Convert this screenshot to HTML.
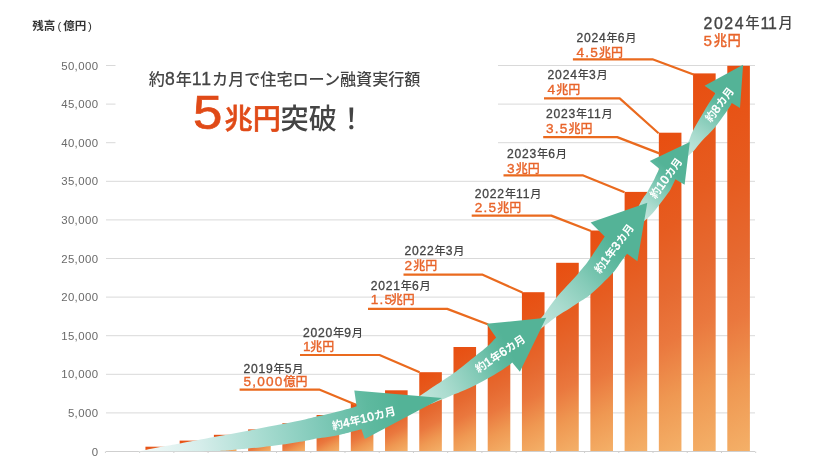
<!DOCTYPE html>
<html lang="ja"><head><meta charset="utf-8"><title>住宅ローン融資実行額 5兆円突破</title>
<style>html,body{margin:0;padding:0;background:#fff}body{width:828px;height:456px;overflow:hidden}svg{display:block}text{font-family:"Liberation Sans","Noto Sans CJK JP",sans-serif}.ax{font-size:11.4px;fill:#6a6a6a;text-anchor:end;letter-spacing:.4px}.dt{font-size:11.2px;fill:#444;font-weight:500}.dn{font-size:12.1px;letter-spacing:.8px;stroke:#444;stroke-width:.3px}.vl{font-size:12px;fill:#e8642a;font-weight:500;stroke:#e8642a;stroke-width:.25px}.vn{font-size:13.6px;letter-spacing:1.2px;stroke:#e8642a;stroke-width:.35px}.tn{font-size:17.6px;letter-spacing:1px;font-weight:400;stroke:#444;stroke-width:.3px}.bn{font-size:15.9px;stroke:#444;stroke-width:.35px}.bv{font-size:15.2px;letter-spacing:1.6px;stroke:#e8642a;stroke-width:.35px}.ar{font-size:10.9px;fill:#fff;font-weight:700;text-anchor:middle}.an{font-size:12px;letter-spacing:.4px;font-weight:400;stroke:#fff;stroke-width:.55px}.ln{fill:none;stroke:#ea6a1e;stroke-width:2.2;stroke-linejoin:round}</style></head><body>
<svg width="828" height="456" viewBox="0 0 828 456">
<defs>
<linearGradient id="b1" gradientUnits="userSpaceOnUse" x1="145.4" y1="446.7" x2="152.2" y2="459.4"><stop offset="0" stop-color="#e84e10"/><stop offset="0.3" stop-color="#e65c20"/><stop offset="0.5" stop-color="#e66a31"/><stop offset="0.65" stop-color="#ea783e"/><stop offset="0.82" stop-color="#ef9852"/><stop offset="1" stop-color="#f4b068"/></linearGradient>
<linearGradient id="b2" gradientUnits="userSpaceOnUse" x1="179.7" y1="440.6" x2="189.0" y2="458.1"><stop offset="0" stop-color="#e84e10"/><stop offset="0.3" stop-color="#e65c20"/><stop offset="0.5" stop-color="#e66a31"/><stop offset="0.65" stop-color="#ea783e"/><stop offset="0.82" stop-color="#ef9852"/><stop offset="1" stop-color="#f4b068"/></linearGradient>
<linearGradient id="b3" gradientUnits="userSpaceOnUse" x1="213.9" y1="434.8" x2="225.6" y2="456.8"><stop offset="0" stop-color="#e84e10"/><stop offset="0.3" stop-color="#e65c20"/><stop offset="0.5" stop-color="#e66a31"/><stop offset="0.65" stop-color="#ea783e"/><stop offset="0.82" stop-color="#ef9852"/><stop offset="1" stop-color="#f4b068"/></linearGradient>
<linearGradient id="b4" gradientUnits="userSpaceOnUse" x1="248.1" y1="429.4" x2="262.1" y2="455.6"><stop offset="0" stop-color="#e84e10"/><stop offset="0.3" stop-color="#e65c20"/><stop offset="0.5" stop-color="#e66a31"/><stop offset="0.65" stop-color="#ea783e"/><stop offset="0.82" stop-color="#ef9852"/><stop offset="1" stop-color="#f4b068"/></linearGradient>
<linearGradient id="b5" gradientUnits="userSpaceOnUse" x1="282.4" y1="423.2" x2="298.9" y2="454.2"><stop offset="0" stop-color="#e84e10"/><stop offset="0.3" stop-color="#e65c20"/><stop offset="0.5" stop-color="#e66a31"/><stop offset="0.65" stop-color="#ea783e"/><stop offset="0.82" stop-color="#ef9852"/><stop offset="1" stop-color="#f4b068"/></linearGradient>
<linearGradient id="b6" gradientUnits="userSpaceOnUse" x1="316.6" y1="415.0" x2="336.5" y2="452.4"><stop offset="0" stop-color="#e84e10"/><stop offset="0.3" stop-color="#e65c20"/><stop offset="0.5" stop-color="#e66a31"/><stop offset="0.65" stop-color="#ea783e"/><stop offset="0.82" stop-color="#ef9852"/><stop offset="1" stop-color="#f4b068"/></linearGradient>
<linearGradient id="b7" gradientUnits="userSpaceOnUse" x1="350.8" y1="403.6" x2="375.4" y2="449.9"><stop offset="0" stop-color="#e84e10"/><stop offset="0.3" stop-color="#e65c20"/><stop offset="0.5" stop-color="#e66a31"/><stop offset="0.65" stop-color="#ea783e"/><stop offset="0.82" stop-color="#ef9852"/><stop offset="1" stop-color="#f4b068"/></linearGradient>
<linearGradient id="b8" gradientUnits="userSpaceOnUse" x1="385.0" y1="390.3" x2="415.2" y2="447.0"><stop offset="0" stop-color="#e84e10"/><stop offset="0.3" stop-color="#e65c20"/><stop offset="0.5" stop-color="#e66a31"/><stop offset="0.65" stop-color="#ea783e"/><stop offset="0.82" stop-color="#ef9852"/><stop offset="1" stop-color="#f4b068"/></linearGradient>
<linearGradient id="b9" gradientUnits="userSpaceOnUse" x1="419.3" y1="372.2" x2="456.9" y2="443.0"><stop offset="0" stop-color="#e84e10"/><stop offset="0.3" stop-color="#e65c20"/><stop offset="0.5" stop-color="#e66a31"/><stop offset="0.65" stop-color="#ea783e"/><stop offset="0.82" stop-color="#ef9852"/><stop offset="1" stop-color="#f4b068"/></linearGradient>
<linearGradient id="b10" gradientUnits="userSpaceOnUse" x1="453.5" y1="347.0" x2="501.6" y2="437.4"><stop offset="0" stop-color="#e84e10"/><stop offset="0.3" stop-color="#e65c20"/><stop offset="0.5" stop-color="#e66a31"/><stop offset="0.65" stop-color="#ea783e"/><stop offset="0.82" stop-color="#ef9852"/><stop offset="1" stop-color="#f4b068"/></linearGradient>
<linearGradient id="b11" gradientUnits="userSpaceOnUse" x1="487.7" y1="324.5" x2="545.1" y2="432.5"><stop offset="0" stop-color="#e84e10"/><stop offset="0.3" stop-color="#e65c20"/><stop offset="0.5" stop-color="#e66a31"/><stop offset="0.65" stop-color="#ea783e"/><stop offset="0.82" stop-color="#ef9852"/><stop offset="1" stop-color="#f4b068"/></linearGradient>
<linearGradient id="b12" gradientUnits="userSpaceOnUse" x1="521.9" y1="292.2" x2="592.7" y2="425.4"><stop offset="0" stop-color="#e84e10"/><stop offset="0.3" stop-color="#e65c20"/><stop offset="0.5" stop-color="#e66a31"/><stop offset="0.65" stop-color="#ea783e"/><stop offset="0.82" stop-color="#ef9852"/><stop offset="1" stop-color="#f4b068"/></linearGradient>
<linearGradient id="b13" gradientUnits="userSpaceOnUse" x1="556.2" y1="262.8" x2="639.2" y2="418.9"><stop offset="0" stop-color="#e84e10"/><stop offset="0.3" stop-color="#e65c20"/><stop offset="0.5" stop-color="#e66a31"/><stop offset="0.65" stop-color="#ea783e"/><stop offset="0.82" stop-color="#ef9852"/><stop offset="1" stop-color="#f4b068"/></linearGradient>
<linearGradient id="b14" gradientUnits="userSpaceOnUse" x1="590.4" y1="230.5" x2="686.8" y2="411.8"><stop offset="0" stop-color="#e84e10"/><stop offset="0.3" stop-color="#e65c20"/><stop offset="0.5" stop-color="#e66a31"/><stop offset="0.65" stop-color="#ea783e"/><stop offset="0.82" stop-color="#ef9852"/><stop offset="1" stop-color="#f4b068"/></linearGradient>
<linearGradient id="b15" gradientUnits="userSpaceOnUse" x1="624.6" y1="191.9" x2="737.0" y2="403.3"><stop offset="0" stop-color="#e84e10"/><stop offset="0.3" stop-color="#e65c20"/><stop offset="0.5" stop-color="#e66a31"/><stop offset="0.65" stop-color="#ea783e"/><stop offset="0.82" stop-color="#ef9852"/><stop offset="1" stop-color="#f4b068"/></linearGradient>
<linearGradient id="b16" gradientUnits="userSpaceOnUse" x1="658.8" y1="132.7" x2="795.8" y2="390.2"><stop offset="0" stop-color="#e84e10"/><stop offset="0.3" stop-color="#e65c20"/><stop offset="0.5" stop-color="#e66a31"/><stop offset="0.65" stop-color="#ea783e"/><stop offset="0.82" stop-color="#ef9852"/><stop offset="1" stop-color="#f4b068"/></linearGradient>
<linearGradient id="b17" gradientUnits="userSpaceOnUse" x1="693.1" y1="73.4" x2="854.6" y2="377.1"><stop offset="0" stop-color="#e84e10"/><stop offset="0.3" stop-color="#e65c20"/><stop offset="0.5" stop-color="#e66a31"/><stop offset="0.65" stop-color="#ea783e"/><stop offset="0.82" stop-color="#ef9852"/><stop offset="1" stop-color="#f4b068"/></linearGradient>
<linearGradient id="b18" gradientUnits="userSpaceOnUse" x1="727.3" y1="65.8" x2="891.9" y2="375.5"><stop offset="0" stop-color="#e84e10"/><stop offset="0.3" stop-color="#e65c20"/><stop offset="0.5" stop-color="#e66a31"/><stop offset="0.65" stop-color="#ea783e"/><stop offset="0.82" stop-color="#ef9852"/><stop offset="1" stop-color="#f4b068"/></linearGradient>
<linearGradient id="a5" gradientUnits="userSpaceOnUse" x1="684.0" y1="155.0" x2="725.0" y2="97.0"><stop offset="0" stop-color="#c6e7df"/><stop offset="0.3" stop-color="#abdccf"/><stop offset="0.6" stop-color="#85cbb8"/><stop offset="0.85" stop-color="#60baa1"/><stop offset="1" stop-color="#54b397"/></linearGradient>
<linearGradient id="a4" gradientUnits="userSpaceOnUse" x1="636.0" y1="215.0" x2="672.0" y2="172.0"><stop offset="0" stop-color="#c6e7df"/><stop offset="0.3" stop-color="#abdccf"/><stop offset="0.6" stop-color="#85cbb8"/><stop offset="0.85" stop-color="#60baa1"/><stop offset="1" stop-color="#54b397"/></linearGradient>
<linearGradient id="a3" gradientUnits="userSpaceOnUse" x1="530.0" y1="328.0" x2="615.0" y2="245.0"><stop offset="0" stop-color="#c6e7df"/><stop offset="0.3" stop-color="#abdccf"/><stop offset="0.6" stop-color="#85cbb8"/><stop offset="0.85" stop-color="#60baa1"/><stop offset="1" stop-color="#54b397"/></linearGradient>
<linearGradient id="a2" gradientUnits="userSpaceOnUse" x1="415.0" y1="400.0" x2="510.0" y2="350.0"><stop offset="0" stop-color="#c6e7df"/><stop offset="0.3" stop-color="#abdccf"/><stop offset="0.6" stop-color="#85cbb8"/><stop offset="0.85" stop-color="#60baa1"/><stop offset="1" stop-color="#54b397"/></linearGradient>
<linearGradient id="a1" gradientUnits="userSpaceOnUse" x1="140.0" y1="451.0" x2="400.0" y2="407.0"><stop offset="0" stop-color="#f2faf9"/><stop offset="0.23" stop-color="#d5edea"/><stop offset="0.46" stop-color="#a8dcd1"/><stop offset="0.69" stop-color="#7fc9b8"/><stop offset="0.88" stop-color="#5eb99f"/><stop offset="1" stop-color="#53b397"/></linearGradient>
</defs>
<rect width="828" height="456" fill="#fff"/>
<path d="M106.0 451.50H755.0" stroke="#cfcfcf" stroke-width="1" fill="none"/>
<path d="M106.0 412.90H755.0" stroke="#d9d9d9" stroke-width="1" fill="none"/>
<path d="M106.0 374.30H755.0" stroke="#d9d9d9" stroke-width="1" fill="none"/>
<path d="M106.0 335.70H755.0" stroke="#d9d9d9" stroke-width="1" fill="none"/>
<path d="M106.0 297.10H755.0" stroke="#d9d9d9" stroke-width="1" fill="none"/>
<path d="M106.0 258.50H755.0" stroke="#d9d9d9" stroke-width="1" fill="none"/>
<path d="M106.0 219.90H755.0" stroke="#d9d9d9" stroke-width="1" fill="none"/>
<path d="M106.0 181.30H755.0" stroke="#d9d9d9" stroke-width="1" fill="none"/>
<path d="M106.0 142.70H115.5M498 142.70H755.0" stroke="#d9d9d9" stroke-width="1" fill="none"/>
<path d="M106.0 104.10H115.5M498 104.10H755.0" stroke="#d9d9d9" stroke-width="1" fill="none"/>
<path d="M106.0 65.50H115.5M498 65.50H755.0" stroke="#d9d9d9" stroke-width="1" fill="none"/>
<path d="M105.41 451.5V453.0M139.64 451.5V453.0M173.86 451.5V453.0M208.09 451.5V453.0M242.31 451.5V453.0M276.54 451.5V453.0M310.77 451.5V453.0M344.99 451.5V453.0M379.22 451.5V453.0M413.44 451.5V453.0M447.67 451.5V453.0M481.90 451.5V453.0M516.12 451.5V453.0M550.35 451.5V453.0M584.57 451.5V453.0M618.80 451.5V453.0M653.03 451.5V453.0M687.25 451.5V453.0M721.48 451.5V453.0M755.70 451.5V453.0" stroke="#cfcfcf" stroke-width="1" fill="none"/>
<text class="ax" x="98.4" y="455.6">0</text>
<text class="ax" x="98.4" y="417.0">5,000</text>
<text class="ax" x="98.4" y="378.4">10,000</text>
<text class="ax" x="98.4" y="339.8">15,000</text>
<text class="ax" x="98.4" y="301.2">20,000</text>
<text class="ax" x="98.4" y="262.6">25,000</text>
<text class="ax" x="98.4" y="224.0">30,000</text>
<text class="ax" x="98.4" y="185.4">35,000</text>
<text class="ax" x="98.4" y="146.8">40,000</text>
<text class="ax" x="98.4" y="108.2">45,000</text>
<text class="ax" x="98.4" y="69.6">50,000</text>
<text x="32.3" y="29.6" style="font-size:11.5px;font-weight:700;fill:#333">残高<tspan dx="2.2" style="font-weight:400">(</tspan><tspan dx="1.8">億円</tspan><tspan dx="1.8" style="font-weight:400">)</tspan></text>
<rect x="145.45" y="446.70" width="22.6" height="4.30" fill="url(#b1)"/>
<rect x="179.67" y="440.60" width="22.6" height="10.40" fill="url(#b2)"/>
<rect x="213.90" y="434.80" width="22.6" height="16.20" fill="url(#b3)"/>
<rect x="248.12" y="429.40" width="22.6" height="21.60" fill="url(#b4)"/>
<rect x="282.35" y="423.20" width="22.6" height="27.80" fill="url(#b5)"/>
<rect x="316.58" y="415.00" width="22.6" height="36.00" fill="url(#b6)"/>
<rect x="350.80" y="403.60" width="22.6" height="47.40" fill="url(#b7)"/>
<rect x="385.03" y="390.30" width="22.6" height="60.70" fill="url(#b8)"/>
<rect x="419.25" y="372.20" width="22.6" height="78.80" fill="url(#b9)"/>
<rect x="453.48" y="347.00" width="22.6" height="104.00" fill="url(#b10)"/>
<rect x="487.71" y="324.50" width="22.6" height="126.50" fill="url(#b11)"/>
<rect x="521.93" y="292.20" width="22.6" height="158.80" fill="url(#b12)"/>
<rect x="556.16" y="262.80" width="22.6" height="188.20" fill="url(#b13)"/>
<rect x="590.38" y="230.50" width="22.6" height="220.50" fill="url(#b14)"/>
<rect x="624.61" y="191.90" width="22.6" height="259.10" fill="url(#b15)"/>
<rect x="658.84" y="132.70" width="22.6" height="318.30" fill="url(#b16)"/>
<rect x="693.06" y="73.40" width="22.6" height="377.60" fill="url(#b17)"/>
<rect x="727.29" y="65.80" width="22.6" height="385.20" fill="url(#b18)"/>
<path class="ln" d="M239.6 389.6H319.2L355.4 404.5"/>
<text class="dt" x="243.5" y="372.6"><tspan class="dn">2019</tspan>年<tspan class="dn">5</tspan>月</text>
<text class="vl" x="243.5" y="386.4"><tspan class="vn">5,000</tspan>億円</text>
<path class="ln" d="M300.0 355.0H379.5L419.6 372.2"/>
<text class="dt" x="303.0" y="337.1"><tspan class="dn">2020</tspan>年<tspan class="dn">9</tspan>月</text>
<text class="vl" x="303.0" y="351.4"><tspan class="vn">1</tspan><tspan dx="-1.5">兆円</tspan></text>
<path class="ln" d="M368.0 308.9H447.2L488.3 324.5"/>
<text class="dt" x="370.7" y="289.7"><tspan class="dn">2021</tspan>年<tspan class="dn">6</tspan>月</text>
<text class="vl" x="370.7" y="304.4"><tspan class="vn">1.5</tspan><tspan dx="-2.4">兆円</tspan></text>
<path class="ln" d="M403.5 274.6H482.1L522.4 292.5"/>
<text class="dt" x="404.5" y="255.4"><tspan class="dn">2022</tspan>年<tspan class="dn">3</tspan>月</text>
<text class="vl" x="404.5" y="270.2"><tspan class="vn">2</tspan>兆円</text>
<path class="ln" d="M471.7 215.6H551.3L591.0 231.0"/>
<text class="dt" x="474.8" y="197.6"><tspan class="dn">2022</tspan>年<tspan class="dn">11</tspan>月</text>
<text class="vl" x="474.8" y="211.9"><tspan class="vn">2.5</tspan>兆円</text>
<path class="ln" d="M503.5 175.3H582.6L624.5 192.3"/>
<text class="dt" x="506.9" y="158.3"><tspan class="dn">2023</tspan>年<tspan class="dn">6</tspan>月</text>
<text class="vl" x="506.9" y="173.1"><tspan class="vn">3</tspan>兆円</text>
<path class="ln" d="M543.2 137.1H617.2L660.0 153.6"/>
<text class="dt" x="546.0" y="118.4"><tspan class="dn">2023</tspan>年<tspan class="dn">11</tspan>月</text>
<text class="vl" x="546.0" y="133.0"><tspan class="vn">3.5</tspan>兆円</text>
<path class="ln" d="M544.0 98.4H619.7L658.6 133.2"/>
<text class="dt" x="547.6" y="79.2"><tspan class="dn">2024</tspan>年<tspan class="dn">3</tspan>月</text>
<text class="vl" x="547.6" y="94.0"><tspan class="vn">4</tspan>兆円</text>
<path class="ln" d="M572.9 59.3H652.5L693.5 74.5"/>
<text class="dt" x="576.5" y="42.3"><tspan class="dn">2024</tspan>年<tspan class="dn">6</tspan>月</text>
<text class="vl" x="576.5" y="56.6"><tspan class="vn">4.5</tspan>兆円</text>
<text x="703.6" y="28.6" style="font-size:14.4px;fill:#444;font-weight:500"><tspan class="bn" style="letter-spacing:1.55px">2024</tspan><tspan dy="-1.1">年</tspan><tspan class="bn" dx="0.9" dy="1.1" style="letter-spacing:-.2px">11</tspan><tspan dx="1.8" dy="-1.1">月</tspan></text>
<text x="703.6" y="45.6" style="font-size:13.3px;fill:#e8642a;font-weight:500;stroke:#e8642a;stroke-width:.3px"><tspan class="bv">5</tspan><tspan dy="-1" style="letter-spacing:.6px">兆円</tspan></text>
<text x="148.8" y="85.2" style="font-size:16.1px;fill:#444;font-weight:500">約<tspan class="tn">8</tspan>年<tspan class="tn">11</tspan>カ月で住宅ローン融資実行額</text>
<text transform="translate(192.9 128.8) scale(1.1 1)" style="font-size:48px;fill:#e04a17;stroke:#e04a17;stroke-width:.7px">5</text>
<text x="224.6" y="129.3" style="font-size:28.2px;fill:#e04a17;font-weight:500;stroke:#e04a17;stroke-width:.55px">兆円</text>
<text x="280.5" y="129.3" style="font-size:28.2px;fill:#444;font-weight:500">突破</text>
<text x="337.3" y="129.3" style="font-size:28.2px;fill:#444;font-weight:500">！</text>
<path d="M676.0 166.0C678.1 161.9 685.7 147.3 688.5 141.5C691.3 135.7 690.2 136.1 692.9 130.9C695.6 125.7 701.0 116.6 704.7 110.3C708.5 104.0 713.6 96.1 715.4 93.3L704.6 85.8 L743.1 64.7 L740.0 108.0 L731.8 102.9C731.1 104.1 730.1 106.3 727.4 110.3C724.7 114.3 719.7 121.6 715.4 126.8C711.1 132.0 704.8 137.8 701.4 141.6C698.0 145.4 696.9 147.3 694.9 149.5C692.9 151.7 692.4 152.2 689.2 155.0C686.1 157.8 678.2 164.2 676.0 166.0Z" fill="url(#a5)"/>
<path d="M625.0 236.0C627.5 230.6 636.3 210.8 640.0 203.5C643.7 196.2 644.6 196.6 647.0 192.5C649.4 188.4 652.2 183.1 654.3 179.2C656.3 175.2 658.5 170.5 659.3 168.8L649.8 161.0 L689.8 142.0 L684.6 184.7 L675.4 179.3C674.7 180.8 672.4 185.9 671.0 188.5C669.6 191.1 669.1 191.7 667.0 194.6C664.9 197.5 661.7 202.0 658.4 206.0C655.1 210.0 652.9 213.5 647.3 218.5C641.7 223.5 628.7 233.1 625.0 236.0Z" fill="url(#a4)"/>
<path d="M518.0 344.0C521.9 339.7 534.8 325.6 541.1 318.0C547.4 310.4 549.5 305.9 555.7 298.4C561.9 290.9 572.7 279.9 578.5 273.2C584.3 266.5 585.9 264.4 590.3 258.3C594.7 252.2 602.3 240.2 604.7 236.6L590.6 222.4 L647.3 202.8 L637.4 261.2 L627.1 253.7C626.0 255.1 622.9 259.1 620.5 262.4C618.1 265.6 617.5 267.8 612.5 273.2C607.5 278.6 596.0 289.7 590.3 294.6C584.6 299.5 581.9 300.3 578.5 302.6C575.1 304.9 573.8 305.8 570.0 308.2C566.2 310.6 560.5 313.8 555.7 317.2C550.9 320.6 547.4 323.9 541.1 328.4C534.8 332.9 521.9 341.4 518.0 344.0Z" fill="url(#a3)"/>
<path d="M385.0 420.0C391.0 415.9 411.4 401.6 420.8 395.2C430.2 388.8 435.8 385.2 441.3 381.5C446.8 377.8 448.0 377.5 453.8 373.1C459.6 368.8 470.4 359.9 476.1 355.4C481.8 350.9 484.5 349.0 487.8 346.0C491.1 343.0 494.7 338.8 496.1 337.4L486.5 323.8 L546.2 317.8 L519.9 371.8 L512.2 362.6C511.8 362.9 512.0 363.1 510.0 364.5C508.0 365.9 503.7 368.9 500.0 371.3C496.3 373.7 491.7 376.4 487.7 378.6C483.7 380.9 479.9 382.9 476.1 384.8C472.3 386.7 468.7 388.4 465.0 390.0C461.3 391.6 459.1 392.5 453.8 394.6C448.5 396.8 444.9 398.7 433.4 402.9C421.9 407.1 393.1 417.1 385.0 420.0Z" fill="url(#a2)"/>
<path d="M138.3 451.4C140.2 451.0 145.8 450.0 150.0 449.1C154.2 448.2 158.8 447.2 163.8 446.3C168.8 445.4 171.6 444.9 180.0 443.4C188.4 441.9 202.7 439.2 214.0 437.1C225.3 435.0 236.6 432.9 248.0 430.7C259.4 428.5 272.9 426.0 282.4 424.1C291.9 422.2 299.2 420.8 304.9 419.5C310.6 418.2 311.1 418.0 316.8 416.6C322.5 415.2 333.5 412.6 339.2 411.2C344.9 409.8 348.1 408.8 351.0 408.0C353.9 407.2 355.7 406.5 356.6 406.2L354.3 390.5 L442.0 398.1 L364.8 439.0 L361.4 429.3C359.7 429.8 354.7 431.1 351.0 432.0C347.3 432.9 344.9 433.8 339.2 434.9C333.5 436.0 322.5 437.6 316.8 438.6C311.1 439.6 310.6 439.9 304.9 440.9C299.2 441.9 289.5 443.6 282.4 444.6C275.2 445.7 267.7 446.6 262.0 447.2C256.3 447.8 252.2 448.1 248.0 448.5C243.8 448.9 242.2 449.1 236.5 449.5C230.8 449.9 230.4 450.8 214.0 451.1C197.6 451.4 150.9 451.3 138.3 451.4Z" fill="url(#a1)"/>
<text class="ar" transform="translate(363.8 418.4) rotate(-14.0)" y="4">約<tspan class="an">4</tspan>年<tspan class="an">10</tspan>カ月</text>
<text class="ar" transform="translate(500.2 353.7) rotate(-33.8)" y="4">約<tspan class="an">1</tspan>年<tspan class="an">6</tspan>カ月</text>
<text class="ar" transform="translate(614.0 248.5) rotate(-53.5)" y="4">約<tspan class="an">1</tspan>年<tspan class="an">3</tspan>カ月</text>
<text class="ar" transform="translate(666.0 178.0) rotate(-54.0)" y="4">約<tspan class="an">10</tspan>カ月</text>
<text class="ar" transform="translate(719.5 104.4) rotate(-53.0)" y="4">約<tspan class="an">8</tspan>カ月</text>
</svg></body></html>
